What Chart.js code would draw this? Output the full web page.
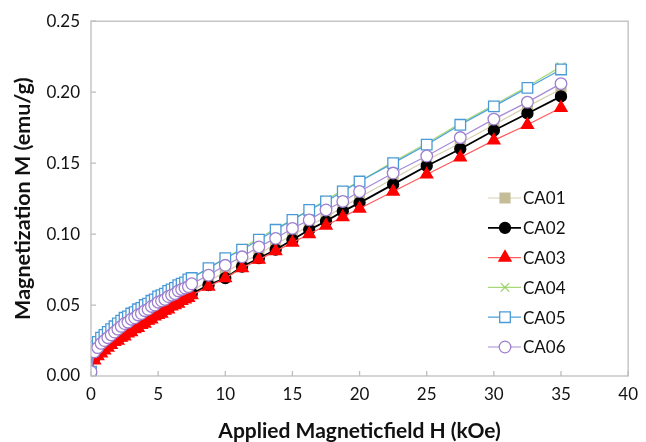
<!DOCTYPE html>
<html>
<head>
<meta charset="utf-8">
<title>Magnetization vs applied field</title>
<script src="https://cdn.jsdelivr.net/npm/chart.js@4.4.1/dist/chart.umd.min.js"></script>
<style>
  html, body { margin: 0; padding: 0; background: #fff; }
  #wrap { width: 646px; height: 442px; }
</style>
</head>
<body>
<div id="wrap"><canvas id="chart" width="646" height="442"></canvas></div>
<script>
// applied field H (kOe)
var fieldH = [0, 0.25, 0.5, 0.75, 1, 1.25, 1.5, 1.75, 2, 2.25, 2.5, 2.75, 3, 3.25, 3.5, 3.75,
  4, 4.25, 4.5, 4.75, 5, 5.25, 5.5, 5.75, 6, 6.25, 6.5, 6.75, 7, 7.25, 7.5,
  8.75, 10, 11.25, 12.5, 13.75, 15, 16.25, 17.5, 18.75, 20,
  22.5, 25, 27.5, 30, 32.5, 35];

// magnetization M (emu/g)
var ca01 = [0.003, 0.015, 0.018, 0.020, 0.022, 0.024, 0.026, 0.027, 0.029, 0.030, 0.032, 0.033, 0.035, 0.036, 0.038, 0.039,
  0.041, 0.042, 0.044, 0.045, 0.047, 0.048, 0.049, 0.051, 0.052, 0.054, 0.055, 0.056, 0.057, 0.059, 0.060,
  0.067, 0.073, 0.080, 0.086, 0.093, 0.099, 0.106, 0.112, 0.119, 0.126,
  0.139, 0.152, 0.164, 0.177, 0.190, 0.202];
var ca02 = [0.002, 0.013, 0.016, 0.018, 0.020, 0.022, 0.024, 0.025, 0.027, 0.028, 0.030, 0.031, 0.033, 0.034, 0.036, 0.037,
  0.039, 0.040, 0.042, 0.043, 0.045, 0.046, 0.047, 0.049, 0.050, 0.052, 0.053, 0.054, 0.055, 0.057, 0.058,
  0.064, 0.069, 0.077, 0.083, 0.089, 0.096, 0.103, 0.109, 0.116, 0.122,
  0.135, 0.148, 0.160, 0.173, 0.185, 0.197];
var ca03 = [0.001, 0.011, 0.014, 0.016, 0.018, 0.020, 0.022, 0.024, 0.025, 0.027, 0.028, 0.030, 0.031, 0.033, 0.034, 0.036,
  0.037, 0.039, 0.040, 0.042, 0.043, 0.044, 0.046, 0.047, 0.049, 0.050, 0.051, 0.053, 0.054, 0.055, 0.057,
  0.063, 0.069, 0.076, 0.082, 0.088, 0.094, 0.100, 0.106, 0.112, 0.118,
  0.130, 0.142, 0.154, 0.166, 0.177, 0.189];
var ca04 = [0.003, 0.020, 0.024, 0.027, 0.029, 0.031, 0.033, 0.035, 0.037, 0.039, 0.040, 0.042, 0.044, 0.045, 0.047, 0.048,
  0.050, 0.051, 0.053, 0.054, 0.056, 0.057, 0.058, 0.060, 0.061, 0.062, 0.064, 0.065, 0.066, 0.068, 0.069,
  0.076, 0.083, 0.090, 0.097, 0.104, 0.110, 0.117, 0.124, 0.131, 0.137,
  0.151, 0.164, 0.178, 0.191, 0.204, 0.218];
var ca05 = [0.003, 0.021, 0.024, 0.027, 0.029, 0.031, 0.033, 0.035, 0.037, 0.039, 0.041, 0.042, 0.044, 0.045, 0.047, 0.048,
  0.050, 0.051, 0.053, 0.054, 0.056, 0.057, 0.058, 0.060, 0.061, 0.062, 0.064, 0.065, 0.066, 0.068, 0.069,
  0.076, 0.083, 0.089, 0.096, 0.103, 0.110, 0.117, 0.123, 0.130, 0.137,
  0.150, 0.163, 0.177, 0.190, 0.203, 0.216];
var ca06 = [0.003, 0.017, 0.020, 0.023, 0.025, 0.027, 0.029, 0.031, 0.033, 0.035, 0.037, 0.038, 0.040, 0.041, 0.043, 0.044,
  0.046, 0.047, 0.049, 0.050, 0.052, 0.053, 0.054, 0.056, 0.057, 0.058, 0.060, 0.061, 0.062, 0.063, 0.065,
  0.071, 0.078, 0.084, 0.091, 0.097, 0.104, 0.110, 0.117, 0.123, 0.130,
  0.143, 0.155, 0.168, 0.181, 0.193, 0.206];

var seriesNames = ["CA01", "CA02", "CA03", "CA04", "CA05", "CA06"];
var seriesValues = [ca01, ca02, ca03, ca04, ca05, ca06];
var xTicks = [0, 5, 10, 15, 20, 25, 30, 35, 40];
var yTicks = [0, 0.05, 0.10, 0.15, 0.20, 0.25];

var styles = [
  { line: "#d6cfb0", fill: "#c4bd97", edge: "#c4bd97", shape: "rect", r: 7, lw: 1.2 },
  { line: "#000000", fill: "#000000", edge: "#000000", shape: "circle", r: 5.5, lw: 1.8 },
  { line: "#ff5a5a", fill: "#ff0000", edge: "#ff0000", shape: "triangle", r: 7, lw: 1.2 },
  { line: "#a8d878", fill: "#a8d878", edge: "#9ccf6a", shape: "crossRot", r: 6, lw: 1.2 },
  { line: "#4aa0dc", fill: "#ffffff", edge: "#4a9ad8", shape: "rect", r: 7.5, lw: 1.2 },
  { line: "#a58ad6", fill: "#ffffff", edge: "#9d7fce", shape: "circle", r: 5.8, lw: 1.2 }
];

function pairs(vals) {
  var out = [];
  for (var i = 0; i < fieldH.length; i++) out.push({ x: fieldH[i], y: vals[i] });
  return out;
}

var datasets = [];
for (var s = 0; s < seriesNames.length; s++) {
  var st = styles[s];
  datasets.push({
    label: seriesNames[s],
    data: pairs(seriesValues[s]),
    showLine: true,
    borderColor: st.line,
    borderWidth: st.lw,
    pointStyle: st.shape,
    pointRadius: st.r,
    pointBackgroundColor: st.fill,
    pointBorderColor: st.edge,
    pointBorderWidth: 1.3,
    order: seriesNames.length - s
  });
}

var FONT = "Lato, 'Open Sans', sans-serif";

// frame, inside tick marks and the legend box inside the plot
var framePlugin = {
  id: "frame",
  afterDraw: function (chart) {
    var ctx = chart.ctx, a = chart.chartArea;
    var xs = chart.scales.x, ys = chart.scales.y;
    ctx.save();
    ctx.strokeStyle = "#bdbdbd";
    ctx.lineWidth = 1.3;
    ctx.strokeRect(a.left, a.top, a.right - a.left, a.bottom - a.top);
    ctx.beginPath();
    xTicks.forEach(function (v) {
      var px = xs.getPixelForValue(v);
      ctx.moveTo(px, a.bottom);
      ctx.lineTo(px, a.bottom - 5);
    });
    yTicks.forEach(function (v) {
      var py = ys.getPixelForValue(v);
      ctx.moveTo(a.left, py);
      ctx.lineTo(a.left + 5, py);
    });
    ctx.stroke();

    // legend
    var lx = 488, ly = 198, gap = 29.8;
    ctx.font = "17px " + FONT;
    ctx.textBaseline = "middle";
    ctx.textAlign = "left";
    chart.data.datasets.forEach(function (ds, i) {
      var y = ly + i * gap;
      ctx.strokeStyle = ds.borderColor;
      ctx.lineWidth = ds.borderWidth;
      ctx.beginPath();
      ctx.moveTo(lx, y);
      ctx.lineTo(lx + 33, y);
      ctx.stroke();
      ctx.fillStyle = ds.pointBackgroundColor;
      ctx.strokeStyle = ds.pointBorderColor;
      ctx.lineWidth = 1.3;
      Chart.helpers.drawPoint(ctx, { pointStyle: ds.pointStyle, radius: ds.pointRadius, borderWidth: 1.3 }, lx + 17, y);
      ctx.fillStyle = "#111";
      ctx.fillText(ds.label, lx + 35, y + 1);
    });
    ctx.restore();
  }
};

var chart = new Chart(document.getElementById("chart"), {
  type: "scatter",
  data: { datasets: datasets },
  options: {
    responsive: false,
    animation: false,
    layout: { padding: { top: 21, right: 10, left: 0, bottom: 0 } },
    plugins: { legend: { display: false }, tooltip: { enabled: false } },
    scales: {
      x: {
        type: "linear", min: 0, max: 40,
        grid: { display: false, drawTicks: false },
        border: { display: false },
        ticks: { stepSize: 5, padding: 8, color: "#111", font: { family: FONT, size: 17 } },
        title: { display: true, text: "Applied Magneticfield H (kOe)", color: "#111",
          font: { family: FONT, size: 21, weight: "bold", lineHeight: 1 }, padding: { top: 0, bottom: 0 } },
        afterFit: function (sc) { sc.height = 66; }
      },
      y: {
        type: "linear", min: 0, max: 0.25,
        grid: { display: false, drawTicks: false },
        border: { display: false },
        ticks: { stepSize: 0.05, padding: 11, color: "#111", font: { family: FONT, size: 17 },
          callback: function (v) { return v.toFixed(2); } },
        title: { display: true, text: "Magnetization M (emu/g)", color: "#111",
          font: { family: FONT, size: 21.5, weight: "bold", lineHeight: 1.2 }, padding: { top: 10, bottom: 0 } },
        afterFit: function (sc) { sc.width = 91; }
      }
    }
  },
  plugins: [framePlugin]
});
</script>
</body>
</html>
